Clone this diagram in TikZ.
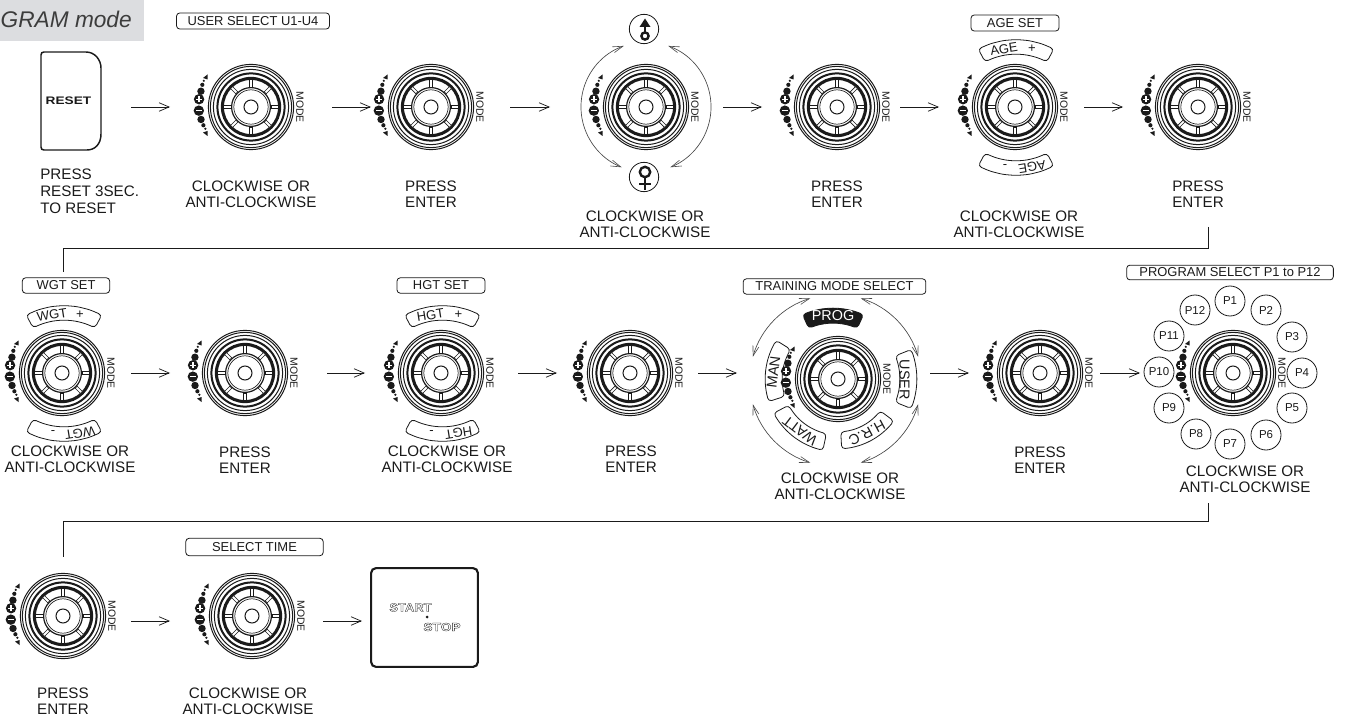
\documentclass[tikz,border=0pt]{standalone}
\usepackage{fontspec}
\setmainfont{Liberation Sans}
\usetikzlibrary{arrows.meta,calc}
\definecolor{ink}{HTML}{1A1A1A}
\definecolor{titlebg}{HTML}{DCDDE0}
\tikzset{
  flow/.style 2 args={draw=ink,line width=.7pt,-{Straight Barb[length=7.5pt,width=6.4pt,line width=.55pt]},shorten <=#1*0.75pt,shorten >=#2*0.75pt},
  rail/.style={draw=ink,line width=.75pt},
  rotarrow/.style={draw=ink!80,line width=.5pt,{Straight Barb[length=7.5pt,width=4.6pt,line width=.45pt]}-{Straight Barb[length=7.5pt,width=4.6pt,line width=.45pt]}},
  capt/.style={font=\fontsize{11.4}{12}\selectfont,align=center,inner sep=0pt,text=ink},
  lbox/.style={draw=ink,line width=.6pt,rounded corners=2.4pt,inner sep=0pt,font=\fontsize{9.7}{11}\selectfont,text=ink},
  pcirc/.style={circle,draw=ink,line width=.6pt,minimum size=22.5pt,inner sep=0pt,font=\fontsize{8.6}{10}\selectfont,text=ink},
  knobnode/.style={circle,minimum size=64pt,inner sep=0pt},
  bantxt/.style={inner sep=0pt,font=\fontsize{9.8}{11}\selectfont,text=ink},
  tmtxt/.style={inner sep=0pt,font=\fontsize{10.8}{12}\selectfont,text=ink},
  outl/.style={inner sep=0pt,font=\fontsize{8.6}{10}\selectfont\bfseries,text=ink},
  knob/.pic={
    \foreach \r/\w in {42.6/.75,40.6/.75,37.6/.75,33.6/1.5,28.6/2.3,19.4/.9,17.2/.5,7/.75}
      \draw[ink,line width=\w pt] (0,0) circle[radius=\r];
    \foreach \a in {0,45,...,315}
      \draw[ink,line width=.5pt,fill=white,rotate=\a] (20,-1.4) rectangle (27.4,1.4);
    \foreach \a/\r/\s in {151/54/1.2,155.5/53.5/2.1,162.5/52.5/3.7,194/51.5/3.7,201/51/2.1,205.5/50.5/1.2}
      \fill[ink] (\a:\r) circle[radius=\s];
    \fill[ink] (-43.5,32.5) -- (-43.5,27.5) -- (-48,29) -- cycle;
    \fill[ink] (-43.5,-24) -- (-43.5,-29) -- (-48,-25.5) -- cycle;
    \fill[ink] (171.5:52.5) circle[radius=5.2];
    \fill[ink] (184:52.3) circle[radius=5.2];
    \draw[white,line width=.9pt] ($(171.5:52.5)+(-2.8,0)$) -- ++(5.6,0) ($(171.5:52.5)+(0,-2.8)$) -- ++(0,5.6);
    \draw[white,line width=.9pt] ($(184:52.3)+(-2.8,0)$) -- ++(5.6,0);
    \node[rotate=-90,inner sep=0pt,font=\fontsize{7.8}{8}\selectfont,text=ink] (mode) at (49,0) {MODE};
  }
}
\newcommand{\putknob}[3]{\node[knobnode] (#1) at (#2,-#3) {};\pic (#1p) at (#2,-#3) {knob};}
% centre x, centre y, mid angle, half angle, inner r, outer r, draw options
\newcommand{\bananashape}[7]{%
  \draw[#7,rounded corners=2.6pt,shift={(#1,-#2)}] (#3-#4:#6)
    foreach \i in {-2,...,3} { -- (#3+\i*#4/3:#6) }
    foreach \i in {3,2,...,-3} { -- (#3+\i*#4/3:#5) } -- cycle;}
% prefix, LABEL, banana x, knob y
\newcommand{\setpair}[4]{%
  \pgfmathsetmacro\bup{#4+13}\pgfmathsetmacro\blo{#4-12}%
  \bananashape{#3}{\bup}{90}{28}{66}{80.5}{draw=ink,line width=.6pt}
  \bananashape{#3}{\blo}{270}{28}{66}{80.5}{draw=ink,line width=.6pt}
  \node[bantxt,rotate=9] (#1up) at (#3-12,-#4+58) {#2};
  \node[bantxt] (#1plus) at (#3+16,-#4+58) {+};
  \node[bantxt,rotate=189] (#1low) at (#3+16,-#4-60) {#2};
  \node[bantxt] (#1minus) at (#3-11,-#4-60) {-};}
\begin{document}
\begin{tikzpicture}[x=.75pt,y=.75pt]
\useasboundingbox (0,-716) rectangle (1348,0);
% title
\fill[titlebg] (0,-41) rectangle (144,0);
\node[anchor=base east,inner sep=0pt,font=\fontsize{17}{20}\selectfont\itshape,text=ink!85] (title) at (132,-28) {GRAM mode};
% reset button
\node[inner sep=0pt,xscale=1.25,font=\fontsize{8.2}{10}\selectfont\bfseries,text=ink] (reset) at (68.5,-101) {RESET};
\draw[ink,line width=1.1pt] (44,-52) -- (86,-52) .. controls (95,-52) and (101,-60) .. (101,-68)
  -- (101,-134) .. controls (101,-144) and (95,-150) .. (87,-150) -- (44,-150)
  .. controls (42,-150) and (41,-149) .. (41,-147) -- (41,-55) .. controls (41,-53) and (42,-52) .. (44,-52) -- cycle;
% row 1 knobs
\putknob{ka}{251}{107}
\putknob{kb}{431}{107}
\putknob{kc}{646}{107}
\putknob{kd}{837}{107}
\putknob{ke}{1015}{107}
\putknob{kf}{1198}{107}
% row 2 knobs
\putknob{kg}{62}{373}
\putknob{kh}{245}{373}
\putknob{ki}{441}{373}
\putknob{kj}{630}{373}
\putknob{kk}{838}{379}
\putknob{kl}{1040}{373}
\putknob{km}{1233}{373}
% row 3
\putknob{kn}{63}{616}
\putknob{ko}{252}{616}
% start box
\node[draw=ink,line width=1.6pt,rounded corners=3.5pt,minimum width=80pt,minimum height=74pt,inner sep=0pt] (startbox) at (424.5,-617.5) {};
\node[outl,xscale=1.13] (starttxt) at (410.5,-607.5) {\special{pdf:code 1 Tr 0.22 w}START\special{pdf:code 0 Tr 1 w}};
\node[outl,xscale=1.2] (stoptxt) at (442,-627) {\special{pdf:code 1 Tr 0.22 w}STOP\special{pdf:code 0 Tr 1 w}};
\fill[ink] (427,-617) circle[radius=1.5];
% label boxes
\node[lbox,minimum width=114.7pt,minimum height=12pt] (busr) at (253,-21) {USER SELECT U1-U4};
\node[lbox,minimum width=66pt,minimum height=12pt] (bage) at (1015,-23) {AGE SET};
\node[lbox,minimum width=65.5pt,minimum height=11.5pt] (bwgt) at (66,-285.5) {WGT SET};
\node[lbox,minimum width=66pt,minimum height=11.5pt] (bhgt) at (441,-285.5) {HGT SET};
\node[lbox,minimum width=137pt,minimum height=11.5pt] (btrn) at (834.5,-286.5) {TRAINING MODE SELECT};
\node[lbox,minimum width=155pt,minimum height=11pt] (bprg) at (1230,-272.5) {PROGRAM SELECT P1 to P12};
\node[lbox,minimum width=103pt,minimum height=13pt] (btim) at (254.5,-547) {SELECT TIME\hspace{18pt}};
% gender
\node[circle,draw=ink,line width=.6pt,minimum size=22pt,inner sep=0pt] (male) at (644,-29) {};
\node[circle,draw=ink,line width=.6pt,minimum size=22pt,inner sep=0pt] (female) at (644,-177) {};
\draw[ink,line width=1.8pt] (645,-36) circle[radius=3.6];
\draw[ink,line width=1.8pt] (645,-32.5) -- (645,-24);
\fill[ink] (645,-18.5) -- (650.5,-27) -- (639.5,-27) -- cycle;
\draw[ink,line width=1.8pt] (645,-172) circle[radius=5.2];
\draw[ink,line width=1.8pt] (645,-177.2) -- (645,-190) (639,-184) -- (651,-184);
\draw[rotarrow] ($(kc)+(110:65)$) arc[start angle=110,end angle=248,radius=65];
\draw[rotarrow] ($(kc)+(70:65)$) arc[start angle=70,end angle=-68,radius=65];
% age / wgt / hgt bananas
\setpair{age}{AGE}{1016}{107}
\setpair{wgt}{WGT}{64}{373}
\setpair{hgt}{HGT}{442.5}{373}
% training mode
\coordinate (tmc) at (835.5,-380.5);
\draw[rotarrow] ($(tmc)+(107:86)$) arc[start angle=107,end angle=164,radius=86];
\draw[rotarrow] ($(tmc)+(73:86)$) arc[start angle=73,end angle=16,radius=86];
\draw[rotarrow] ($(tmc)+(196:86)$) arc[start angle=196,end angle=253,radius=86];
\draw[rotarrow] ($(tmc)+(344:86)$) arc[start angle=344,end angle=287,radius=86];
\bananashape{833}{383}{90}{24}{60}{75}{draw=ink,fill=ink,line width=.6pt}
\bananashape{838}{379}{173}{25}{56}{73}{draw=ink,line width=.6pt}
\bananashape{838}{379}{233}{25}{56}{73}{draw=ink,line width=.6pt}
\bananashape{838}{379}{298}{25}{53}{70}{draw=ink,line width=.6pt}
\bananashape{838}{379}{0}{22}{62}{79}{draw=ink,line width=.6pt}
\node[tmtxt,text=white] (tprog) at (833,-316) {PROG};
\node[tmtxt,rotate=83] (tman) at (773.5,-372) {MAN};
\node[tmtxt,rotate=143] (twatt) at (800,-430.5) {WATT};
\node[tmtxt,rotate=208] (thrc) at (867,-433) {H.R.C};
\node[tmtxt,rotate=-90] (tuser) at (904.5,-380) {USER};
% program circles
\foreach \n/\x/\y in {P1/1230/301,P2/1266/310,P3/1292/337,P4/1302/373,P5/1292/408,P6/1266/435,P7/1230/444,P8/1196/434,P9/1169/408,P10/1159/372,P11/1169/336,P12/1195/310}
  \node[pcirc] (\n) at (\x,-\y) {\n};
% captions
\node[capt,anchor=west,align=left] (c0) at (40,-191.5) {PRESS\\[.7pt]RESET 3SEC.\\[.7pt]TO RESET};
\foreach \nm/\x/\y in {ca/251/194,cc/645/224,ce/1019/224,cg/70/459,ci/447/459.5,ck/840/486,cm/1245/479,co/248/701.5}
  \node[capt] (\nm) at (\x,-\y) {CLOCKWISE OR\\ANTI-CLOCKWISE};
\foreach \nm/\x/\y in {cb/431/194,cd/837/194,cf/1198/194,ch/245/460,cj/631/459.5,cl/1040/460,cn/63/701.5}
  \node[capt] (\nm) at (\x,-\y) {PRESS\\ENTER};
% row 1 arrows
\draw[flow={62.5}{81}] (reset.center |- ka.center) -- (ka.center);
\draw[flow={81}{60}] (ka.center) -- (kb.center);
\draw[flow={79}{96}] (kb.center) -- (kc.center);
\draw[flow={77}{75}] (kc.center) -- (kd.center);
\draw[flow={63}{76}] (kd.center) -- (ke.center);
\draw[flow={69}{75}] (ke.center) -- (kf.center);
% row 2 arrows
\draw[flow={69}{75}] (kg.center) -- (kh.center);
\draw[flow={82}{76}] (kh.center) -- (ki.center);
\draw[flow={77}{73}] (ki.center) -- (kj.center);
\draw[flow={68}{101}] (kj.center) -- (kj.center -| kk.center);
\draw[flow={92}{71}] (kk.center |- kl.center) -- (kl.center);
\draw[flow={60}{93}] (kl.center) -- (km.center);
% row 3 arrows
\draw[flow={68}{82}] ([yshift=-3.75pt]kn.center) -- ([yshift=-3.75pt]ko.center);
\draw[flow={71}{62.5}] ([yshift=-3.75pt]ko.center) -- ([yshift=-3.75pt]ko.center -| startbox.center);
% long return lines
\coordinate (ra) at (1208,-227);
\coordinate (rb) at (63,-249);
\coordinate (rc) at (63,-272);
\draw[rail] (ra) |- (rb) -- (rc);
\coordinate (rd) at (1208,-503);
\coordinate (re) at (63,-521);
\coordinate (rf) at (63,-557);
\draw[rail] (rd) |- (re) -- (rf);
\end{tikzpicture}
\end{document}
